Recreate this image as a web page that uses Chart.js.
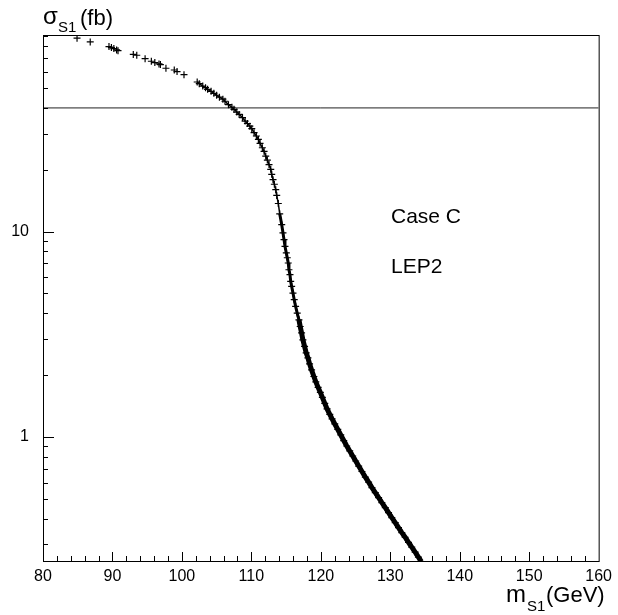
<!DOCTYPE html>
<html>
<head>
<meta charset="utf-8">
<script src="https://cdn.jsdelivr.net/npm/chart.js@4.4.1/dist/chart.umd.min.js"></script>
<style>
  html, body { margin: 0; padding: 0; background: #fff; }
  #wrap { width: 618px; height: 615px; }
</style>
</head>
<body>
<div id="wrap"><canvas id="sigmaChart" width="618" height="615"></canvas></div>
<script>
// m_S1 (GeV)
const masses = [
  84.9, 86.8, 89.5, 89.85, 90.2, 90.6, 90.8, 93.0, 93.5, 94.7, 95.6, 96.1, 96.7, 96.9, 97.7, 98.9, 99.3, 100.3,
  102.2, 102.5, 103.0, 103.4, 103.7, 104.2, 104.6, 105.0, 105.4, 105.9, 106.2, 106.7, 107.2, 107.5, 107.9,
  108.24, 108.72, 109.10, 109.43, 109.78, 110.06, 110.39, 110.72, 111.01, 111.25, 111.58, 111.83, 112.07,
  112.30, 112.54, 112.79, 112.93, 113.12, 113.31, 113.51, 113.65, 113.88, 114.08, 114.37, 114.55, 114.70,
  114.84, 115.03, 115.17, 115.31, 115.41, 115.56, 115.66, 115.80, 115.99, 116.17, 116.37, 116.60, 116.85,
  117.03, 117.23, 117.42, 117.66, 117.89, 118.14, 118.38, 118.67, 119.00, 119.28, 119.61, 119.93, 120.22,
  120.57, 120.90, 121.29, 121.62, 122.01, 122.44, 122.87, 123.30, 123.73, 124.16, 124.59, 125.02, 125.45,
  125.92, 126.41, 126.88, 127.36, 127.84, 128.32, 128.79, 129.28, 129.75, 130.22, 130.71, 131.18, 131.66,
  132.14, 132.62, 133.09, 133.58, 134.05, 134.48
];
// sigma_S1 (fb)
const sigmas = [
  87.4, 83.8, 79.6, 78.7, 77.8, 76.6, 76.0, 72.9, 72.2, 69.5, 67.5, 66.5, 65.5, 65.0, 62.4, 61.2, 60.1, 58.1,
  53.5, 52.5, 51.1, 50.2, 49.3, 48.2, 47.1, 46.1, 45.1, 44.1, 43.1, 41.5, 40.3, 39.4, 38.2,
  37.2, 35.9, 34.5, 33.6, 32.6, 31.7, 30.3, 29.2, 28.1, 26.9, 25.6, 24.6, 23.3,
  22.3, 21.2, 20.1, 19.0, 17.9, 17.0, 16.0, 15.0, 13.7, 12.2, 10.8, 9.86, 9.14,
  8.48, 7.87, 7.46, 7.03, 6.52, 6.17, 5.72, 5.41, 5.02, 4.66, 4.32, 4.01, 3.72,
  3.45, 3.21, 2.97, 2.76, 2.57, 2.43, 2.27, 2.12, 1.97, 1.855, 1.744, 1.648, 1.558,
  1.457, 1.369, 1.288, 1.224, 1.157, 1.088, 1.023, 0.961, 0.904, 0.855, 0.808, 0.764, 0.722,
  0.679, 0.638, 0.603, 0.567, 0.536, 0.507, 0.479, 0.453, 0.428, 0.405, 0.383, 0.362, 0.342,
  0.325, 0.307, 0.291, 0.275, 0.260, 0.247
];
const limitLine = 40;               // horizontal LEP2 bound (fb)
const xRange = [80, 160];
const yRange = [0.249, 90.6];
const yLabelled = [1, 10];
const xMinorStep = 2;
const yMinor = [0.3, 0.4, 0.5, 0.6, 0.7, 0.8, 0.9, 2, 3, 4, 5, 6, 7, 8, 9, 20, 30, 40, 50, 60, 70, 80, 90];
const notes = ['Case C', 'LEP2'];

const FONT = '"Liberation Sans", Arial, Helvetica, sans-serif';

const points = masses.map((m, i) => ({ x: m, y: sigmas[i] }));

// where the markers pile up into a solid band
function bandWidth(c) {
  const a = c.p0.parsed, b = c.p1.parsed;
  if (a.x < 102) return 0;
  if (b.y < 3.6) return 5;
  if (b.y < 11) return 3;
  return 1.5;
}

// frame, inner tick marks, titles and notes
const decor = {
  id: 'decor',
  afterDatasetsDraw(chart) {
    const { ctx, chartArea: a, scales: { x, y } } = chart;
    ctx.save();
    ctx.strokeStyle = '#000';
    ctx.lineWidth = 1;
    ctx.strokeRect(a.left + 0.5, a.top + 0.5, a.right - a.left, a.bottom - a.top);

    ctx.beginPath();
    for (let v = xRange[0] + xMinorStep; v < xRange[1]; v += xMinorStep) {
      const px = Math.round(x.getPixelForValue(v)) + 0.5;
      const len = (v % 10 === 0) ? 9 : 5;
      ctx.moveTo(px, a.bottom);
      ctx.lineTo(px, a.bottom - len);
    }
    yMinor.concat(yLabelled).forEach(v => {
      const py = Math.round(y.getPixelForValue(v)) + 0.5;
      if (py < a.top || py > a.bottom) return;
      const len = yLabelled.includes(v) ? 11 : 5;
      ctx.moveTo(a.left, py);
      ctx.lineTo(a.left + len, py);
    });
    ctx.stroke();

    ctx.fillStyle = '#000';
    ctx.textBaseline = 'alphabetic';
    ctx.textAlign = 'left';

    // y title: sigma_S1(fb)
    ctx.font = '24px ' + FONT;
    ctx.fillText('σ', 43, 24);
    ctx.font = '15px ' + FONT;
    ctx.fillText('S1', 58, 32);
    ctx.font = '22px ' + FONT;
    ctx.fillText('(fb)', 80, 25);

    // x title: m_S1(GeV)
    ctx.font = '24px ' + FONT;
    ctx.fillText('m', 506, 602);
    ctx.font = '15px ' + FONT;
    ctx.fillText('S1', 527, 611);
    ctx.font = '22px ' + FONT;
    ctx.fillText('(GeV)', 546, 602);

    ctx.font = '21px ' + FONT;
    ctx.fillText(notes[0], 391, 223);
    ctx.fillText(notes[1], 391, 273);
    ctx.restore();
  }
};

new Chart(document.getElementById('sigmaChart').getContext('2d'), {
  type: 'scatter',
  data: {
    datasets: [
      {
        data: points,
        showLine: true,
        borderColor: '#000',
        backgroundColor: '#000',
        borderWidth: 1,
        segment: {
          borderWidth: bandWidth,
          borderColor: c => bandWidth(c) ? '#000' : 'rgba(0,0,0,0)'
        },
        pointStyle: 'cross',
        pointRadius: 3.5,
        pointBorderWidth: 1.2,
        pointBorderColor: '#000'
      },
      {
        type: 'line',
        data: [{ x: xRange[0], y: limitLine }, { x: xRange[1], y: limitLine }],
        borderColor: '#222',
        borderWidth: 1,
        pointRadius: 0
      }
    ]
  },
  options: {
    responsive: false,
    animation: false,
    layout: { padding: { top: 35, right: 17, left: 0, bottom: 0 } },
    plugins: { legend: { display: false }, tooltip: { enabled: false } },
    scales: {
      x: {
        type: 'linear',
        min: xRange[0],
        max: xRange[1],
        grid: { display: false, drawTicks: false },
        border: { display: false },
        afterFit: s => { s.height = 54; },
        ticks: {
          stepSize: 10,
          padding: 6,
          color: '#000',
          font: { family: FONT, size: 16 },
          maxRotation: 0
        }
      },
      y: {
        type: 'logarithmic',
        min: yRange[0],
        max: yRange[1],
        grid: { display: false, drawTicks: false },
        border: { display: false },
        afterFit: s => { s.width = 43; },
        afterBuildTicks: s => { s.ticks = yLabelled.map(v => ({ value: v })); },
        ticks: {
          padding: 14,
          color: '#000',
          font: { family: FONT, size: 16 },
          callback: v => String(v)
        }
      }
    }
  },
  plugins: [decor]
});
</script>
</body>
</html>
